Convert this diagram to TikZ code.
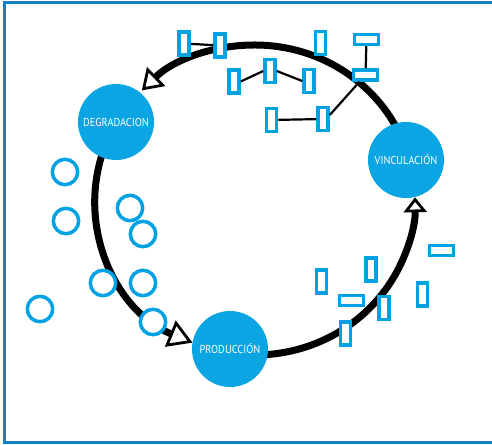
\documentclass[tikz,border=0pt]{standalone}
\usepackage{fontspec}
\newfontfamily\labfont[FakeStretch=0.9]{PT Sans}
\usetikzlibrary{arrows.meta,calc}
\definecolor{cyanfill}{RGB}{10,165,226}
\definecolor{cyanline}{RGB}{0,162,228}
\definecolor{framecol}{RGB}{22,125,200}
\pgfdeclarelayer{bg}
\pgfsetlayers{bg,main}
\begin{document}
\begin{tikzpicture}[x=1pt,y=-1pt,
  bigc/.style={circle, fill=cyanfill, minimum size=76pt, inner sep=0pt, text=white, font=\labfont\fontsize{11.5}{12}\selectfont},
  vr/.style={draw=cyanline, fill=white, line width=3.5pt, minimum width=10pt, minimum height=23pt, inner sep=0pt},
  hr/.style={draw=cyanline, fill=white, line width=3.5pt, minimum width=24pt, minimum height=10pt, inner sep=0pt},
  sc/.style={circle, draw=cyanline, fill=white, line width=3.5pt, minimum size=25.4pt, inner sep=0pt},
  link/.style={draw=black, line width=2.2pt},
  ring/.style={draw=black, line width=7pt},
  tipA/.style 2 args={-{Triangle[fill=white,length=#1,width=#2,line width=2.8pt]}}
]
\useasboundingbox (0,0) rectangle (492,444);
\draw[framecol, line width=3pt] (498,3) -- (4.5,3) -- (4.5,442.5) -- (498,442.5);

% main circles
\node[bigc] (deg) at (116,122) {DEGRADACION};
\node[bigc] (vin) at (406,160) {VINCULACIÓN};
\node[bigc] (pro) at (230,349) {PRODUCCIÓN};

% ring arcs
\begin{pgfonlayer}{bg}
\coordinate (a1) at ({255+160*cos(-25)},{200+155*sin(-25)});
\coordinate (a2) at ({255+160*cos(-160)},{200+155*sin(-160)});
\coordinate (a3) at ({255+160*cos(-270)},{200+155*sin(-270)});
\draw[ring, tipA={20pt}{26pt}] (a1) arc[start angle=-25, end angle=-135, x radius=160, y radius=155];
\draw[ring, tipA={24pt}{28pt}] (a2) arc[start angle=-160, end angle=-247, x radius=160, y radius=155];
\draw[ring, tipA={15pt}{23pt}] (a3) arc[start angle=-270, end angle=-361, x radius=160, y radius=155];
\end{pgfonlayer}

% top rectangles
\node[vr] (r1) at (184,43.5) {};
\node[vr] (r2) at (220,45.5) {};
\node[vr] (r3) at (320.5,43) {};
\node[hr] (r4) at (366.5,39.5) {};
\node[hr] (r5) at (365.5,75) {};
\node[vr] (r6) at (234,81.5) {};
\node[vr] (r7) at (270,71) {};
\node[vr] (r8) at (309,81) {};
\node[vr] (r9) at (271.5,120) {};
\node[vr] (r10) at (323,119) {};

\draw[link] (r1) -- (r2);
\draw[link] (r6.east) -- (r7.west);
\draw[link] (r7.east) -- (r8.west);
\draw[link] (r4) -- (r5);
\draw[link] (r9) -- (r10);
\draw[link] ($(r10.east)+(0,-4)$) -- ($(r5.south)+(-6,0)$);

% bottom-right rectangles
\node[vr] (q1) at (321.5,281.5) {};
\node[vr] (q2) at (371,269.5) {};
\node[hr] (q3) at (441.5,250.5) {};
\node[hr] (q4) at (351.5,300.5) {};
\node[vr] (q5) at (384,308) {};
\node[vr] (q6) at (422.5,294.5) {};
\node[vr] (q7) at (345.5,333.5) {};

% left circles
\node[sc] (c1) at (65,172) {};
\node[sc] (c2) at (66,221) {};
\node[sc] (c3) at (130,208) {};
\node[sc] (c4) at (143,234) {};
\node[sc] (c5) at (103,283) {};
\node[sc] (c6) at (143,283) {};
\node[sc] (c7) at (40,309) {};
\node[sc] (c8) at (153,322) {};
\end{tikzpicture}
\end{document}
